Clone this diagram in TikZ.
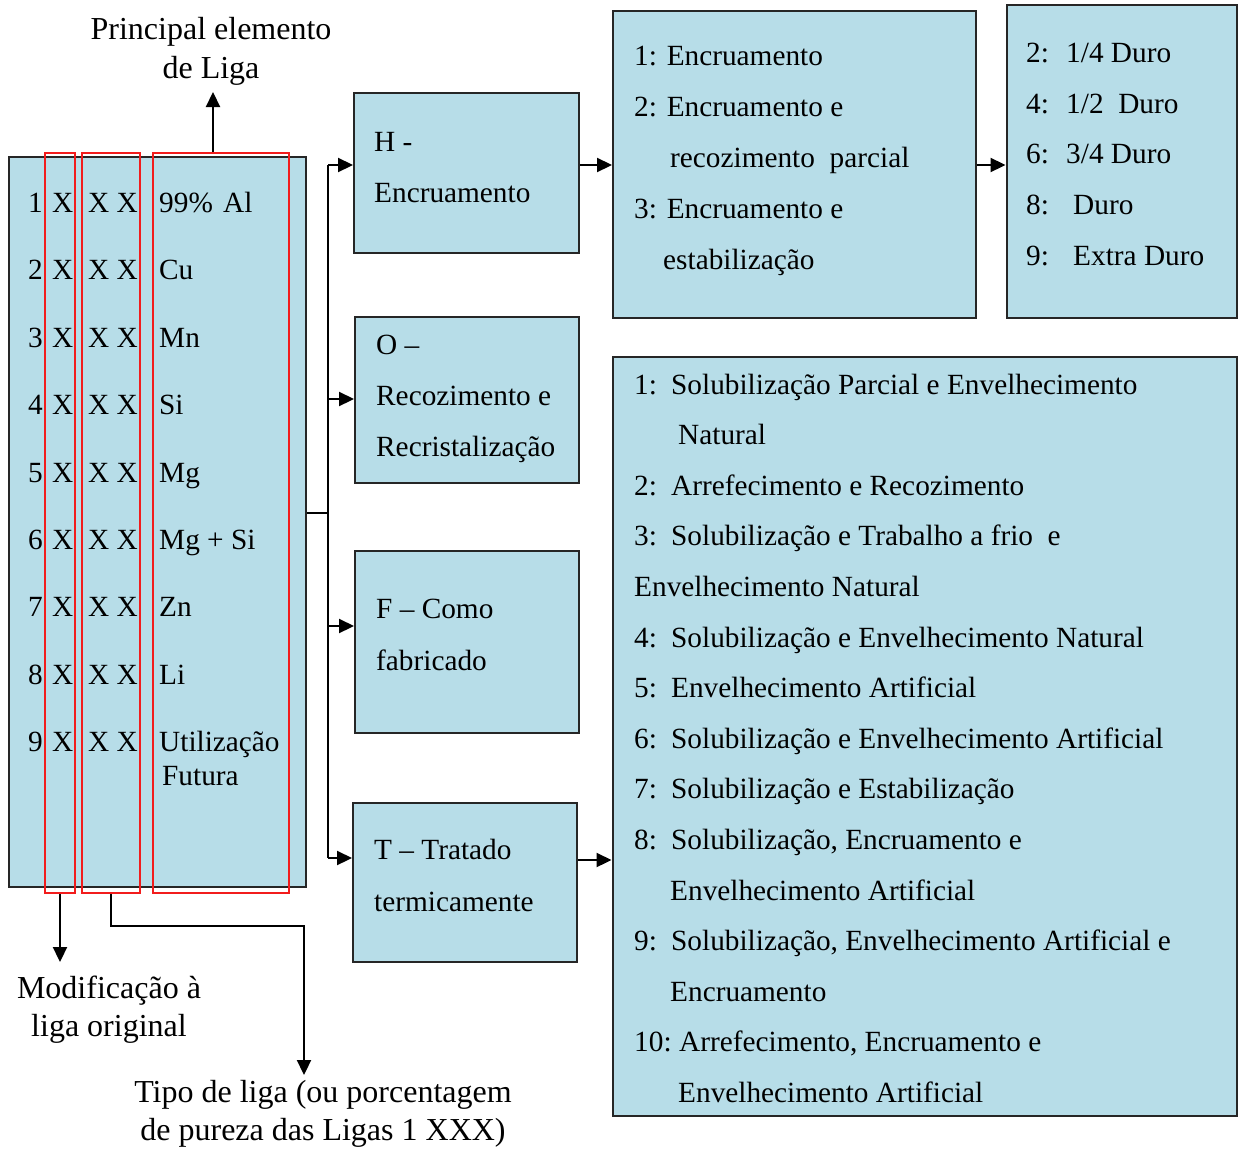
\documentclass[tikz,border=0pt]{standalone}
\usepackage{fontspec}
\setmainfont{Liberation Serif}
\usetikzlibrary{arrows.meta}
\definecolor{boxblue}{HTML}{B7DDE8}
\definecolor{colred}{HTML}{F21C1C}
\tikzset{
  box/.style={draw=black!85, line width=2pt, fill=boxblue, rectangle, inner sep=0pt},
  redcol/.style={draw=colred, line width=2pt, rectangle, inner sep=0pt, minimum height=740pt},
  txt/.style={anchor=base west, inner sep=0pt, font=\fontsize{29.3}{35}\selectfont},
  lab/.style={anchor=base, inner sep=0pt, font=\fontsize{32}{38}\selectfont},
  conn/.style={line width=2.2pt, draw=black},
  arr/.style={conn, -{Triangle[length=15pt,width=14pt]}}
}
\newcommand{\numbox}[2]{\makebox[#1pt][l]{#2}}
\begin{document}
\begin{tikzpicture}[x=1pt, y=-1pt]
\useasboundingbox (0,0) rectangle (1238,1148);

% boxes
\node[box, minimum width=297pt, minimum height=730pt] (L) at (157.5,522) {};
\node[box, minimum width=225pt, minimum height=160pt] (H) at (466.5,173) {};
\node[box, minimum width=224pt, minimum height=166pt] (O) at (467,400) {};
\node[box, minimum width=224pt, minimum height=182pt] (F) at (467,642) {};
\node[box, minimum width=224pt, minimum height=159pt] (T) at (465,882.5) {};
\node[box, minimum width=363pt, minimum height=307pt] (TM) at (794.5,164.5) {};
\node[box, minimum width=230pt, minimum height=313pt] (R) at (1121.5,161.5) {};
\node[box, minimum width=624pt, minimum height=759pt] (B) at (924.5,736.5) {};

% red column frames
\node[redcol, minimum width=30pt] (c1) at (60,523) {};
\node[redcol, minimum width=58pt] (c2) at (111,523) {};
\node[redcol, minimum width=136pt] (c3) at (221,523) {};

% rows of the left box
\foreach \d/\t [count=\i] in {1/{99\%\hspace{0.35em}Al},2/Cu,3/Mn,4/Si,5/Mg,6/{Mg + Si},7/Zn,8/Li,9/{Utilização}} {
  \pgfmathsetmacro\yy{212.5+(\i-1)*67.4}
  \node[txt] (d\i) at (28,\yy) {\d};
  \node[txt] (xa\i) at (52,\yy) {X};
  \node[txt] (xb\i) at (88,\yy) {X X};
  \node[txt] (el\i) at (159,\yy) {\t};
}
\node[txt] (el10) at (162,785) {Futura};

% outside labels
\node[lab] (p1) at (211,40) {Principal elemento};
\node[lab] (p2) at (211,78) {de Liga};
\node[lab] (m1) at (109,998) {Modificação à};
\node[lab] (m2) at (109,1036) {liga original};
\node[lab] (t1) at (323,1102) {Tipo de liga (ou porcentagem};
\node[lab] (t2) at (323,1140) {de pureza das Ligas 1 XXX)};

% middle boxes text
\node[txt] (h1) at (374,151) {H -};
\node[txt] (h2) at (374,202) {Encruamento};
\node[txt] (o1) at (376,354) {O –};
\node[txt] (o2) at (376,405) {Recozimento e};
\node[txt] (o3) at (376,456) {Recristalização};
\node[txt] (f1) at (376,618) {F – Como};
\node[txt] (f2) at (376,670) {fabricado};
\node[txt] (tt1) at (374,859) {T – Tratado};
\node[txt] (tt2) at (374,911) {termicamente};

% top-middle box
\node[txt] (tm1) at (634,65) {1: Encruamento};
\node[txt] (tm2) at (634,116) {2: Encruamento e};
\node[txt] (tm3) at (670,167) {recozimento\ \ parcial};
\node[txt] (tm4) at (634,218) {3: Encruamento e};
\node[txt] (tm5) at (663,269) {estabilização};

% right box
\node[txt] (r1) at (1026,62.5) {\numbox{40}{2:}1/4 Duro};
\node[txt] (r2) at (1026,113) {\numbox{40}{4:}1/2\ \ Duro};
\node[txt] (r3) at (1026,163.5) {\numbox{40}{6:}3/4 Duro};
\node[txt] (r4) at (1026,214) {\numbox{47}{8:}Duro};
\node[txt] (r5) at (1026,265) {\numbox{47}{9:}Extra Duro};

% big box
\foreach \x/\t [count=\i] in {
  634/{\numbox{37}{1:}Solubilização Parcial e Envelhecimento},
  678/{Natural},
  634/{\numbox{37}{2:}Arrefecimento e Recozimento},
  634/{\numbox{37}{3:}Solubilização e Trabalho a frio\ \ e},
  634/{Envelhecimento Natural},
  634/{\numbox{37}{4:}Solubilização e Envelhecimento Natural},
  634/{\numbox{37}{5:}Envelhecimento Artificial},
  634/{\numbox{37}{6:}Solubilização e Envelhecimento Artificial},
  634/{\numbox{37}{7:}Solubilização e Estabilização},
  634/{\numbox{37}{8:}Solubilização, Encruamento e},
  670/{Envelhecimento Artificial},
  634/{\numbox{37}{9:}Solubilização, Envelhecimento Artificial e},
  670/{Encruamento},
  634/{\numbox{45}{10:}Arrefecimento, Encruamento e},
  678/{Envelhecimento Artificial}} {
  \pgfmathsetmacro\yy{394+(\i-1)*50.6}
  \node[txt] (bl\i) at (\x,\yy) {\t};
}

% connector end points
\coordinate (Ptip) at (213,92);
\coordinate (Mtip) at (60,962);
\coordinate (Ttip) at (304,1075);
\coordinate (J) at (328,513);

% connectors from the columns
\draw[arr] (c3.north -| Ptip) -- (Ptip);
\draw[arr] (c1.south) -- (Mtip);
\draw[arr] (c2.south) -- ++(0,32) -| (Ttip);

% distribution bus
\draw[conn] (L.east |- J) -- (J);
\draw[conn] (328,165) -- (328,858);
\draw[arr] (328,165) -- (H.west |- 0,165);
\draw[arr] (328,399) -- (O.west |- 0,399);
\draw[arr] (328,626) -- (F.west |- 0,626);
\draw[arr] (328,858) -- (T.west |- 0,858);

% onward arrows
\draw[arr] (H.east |- 0,165) -- (TM.west |- 0,165);
\draw[arr] (TM.east |- 0,165) -- (R.west |- 0,165);
\draw[arr] (T.east |- 0,860) -- (B.west |- 0,860);
\end{tikzpicture}
\end{document}
